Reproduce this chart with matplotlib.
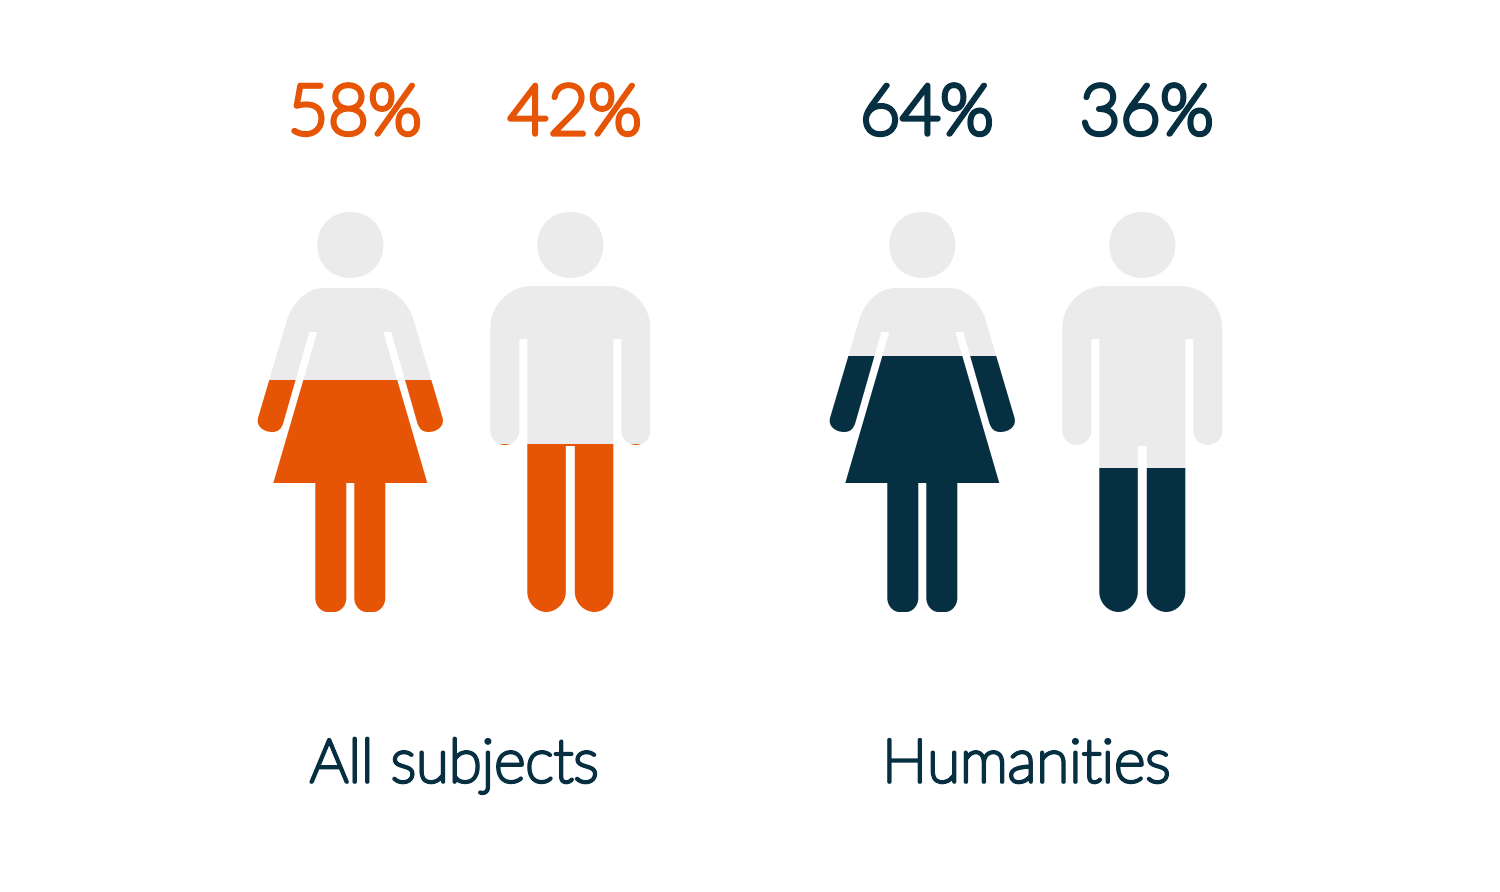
import matplotlib
matplotlib.use("Agg")
import matplotlib.pyplot as plt
from matplotlib.path import Path
from matplotlib.patches import PathPatch, Rectangle
from matplotlib.transforms import Affine2D
import matplotlib.patheffects as pe

# ---- data ----
groups = ["All subjects", "Humanities"]
women_pct = [58, 64]
men_pct = [42, 36]
group_colors = ["#E65505", "#062F41"]

GREY = "#EBEBEB"
NAVY = "#062F41"
FONT = ["Lato", "DejaVu Sans"]
L, C = Path.LINETO, Path.CURVE4

# icon outlines: right half, (dx from icon centre, y in px), mirrored to the left
WOMAN_HALF = [((0, 288), Path.MOVETO), ((27, 288), L),
              ((44, 288), C), ((58, 303), C), ((63, 319), C),
              ((92, 417), L),
              ((95, 426), C), ((87, 432), C), ((78, 432), C),
              ((72, 432), C), ((69, 429), C), ((67, 423), C),
              ((41, 332), L), ((33, 332), L), ((77, 483), L), ((35, 483), L),
              ((35, 598), L),
              ((35, 606), C), ((29, 612), C), ((23, 612), C),
              ((16, 612), L),
              ((10, 612), C), ((4, 606), C), ((4, 598), C),
              ((4, 483), L), ((0, 483), L)]
MAN_HALF = [((0, 286), Path.MOVETO), ((38, 286), L),
            ((62, 286), C), ((80, 306), C), ((80, 328), C),
            ((80, 431), L),
            ((80, 439), C), ((73, 445), C), ((65.5, 445), C),
            ((58, 445), C), ((51, 439), C), ((51, 431), C),
            ((51, 339), L), ((43, 339), L), ((43, 592), L),
            ((43, 603), C), ((34, 612), C), ((24, 612), C),
            ((14, 612), C), ((4.5, 603), C), ((4.5, 592), C),
            ((4.5, 446), L), ((0, 446), L)]
HEAD_Y, HEAD_R, HEAD_K = 245, 33, 0.585
ICON_TOP, ICON_BOTTOM = 212, 612
WOMAN_X = [350.3, 922.3]
MAN_X = [570.3, 1142.3]


def mirrored(half):
    v = [p for p, _ in half]
    c = [k for _, k in half]
    v2 = [(-x, y) for x, y in v[-2::-1]]
    c2 = c[:0:-1]
    return Path(v + v2 + [v[0]], c + c2 + [Path.CLOSEPOLY])


def head_path():
    r, k, y = HEAD_R, HEAD_R * HEAD_K, HEAD_Y
    verts = [(0, y - r), (k, y - r), (r, y - k), (r, y), (r, y + k), (k, y + r), (0, y + r),
             (-k, y + r), (-r, y + k), (-r, y), (-r, y - k), (-k, y - r), (0, y - r), (0, y - r)]
    return Path(verts, [Path.MOVETO] + [C] * 12 + [Path.CLOSEPOLY])


def draw_icon(ax, half, cx, pct, color):
    level = ICON_BOTTOM - pct / 100 * (ICON_BOTTOM - ICON_TOP)
    shift = Affine2D().translate(cx, 0) + ax.transData
    clips = [(Rectangle((0, 0), 1500, level, transform=ax.transData), GREY),
             (Rectangle((0, level), 1500, 892 - level, transform=ax.transData), color)]
    for clip, col in clips:
        ax.add_patch(clip)
        clip.set_visible(False)
        for shape in (mirrored(half), head_path()):
            p = PathPatch(shape, facecolor=col, edgecolor="none", transform=shift)
            ax.add_patch(p)
            p.set_clip_path(clip)


fig = plt.figure(figsize=(15, 8.92), dpi=100, facecolor="white")
ax = fig.add_axes([0, 0, 1, 1])
ax.set_xlim(0, 1500)
ax.set_ylim(892, 0)
ax.axis("off")

for i, g in enumerate(groups):
    col = group_colors[i]
    draw_icon(ax, WOMAN_HALF, WOMAN_X[i], women_pct[i], col)
    draw_icon(ax, MAN_HALF, MAN_X[i], men_pct[i], col)
    for cx, v in ((WOMAN_X[i], women_pct[i]), (MAN_X[i], men_pct[i])):
        ax.text(cx + 4.5, 134, f"{v}%", color=col, fontsize=50, family=FONT,
                fontweight="light", ha="center", va="baseline",
                path_effects=[pe.withStroke(linewidth=3.8, foreground=col,
                                            joinstyle="round", capstyle="round")])
    ax.text((WOMAN_X[i] + MAN_X[i]) / 2 - 6, 782, g, color=NAVY, fontsize=43.5,
            family=FONT, fontweight="light", ha="center", va="baseline",
            path_effects=[pe.withStroke(linewidth=2.6, foreground=NAVY,
                                        joinstyle="round", capstyle="round")])

fig.savefig("out.png", dpi=100, facecolor="white")
